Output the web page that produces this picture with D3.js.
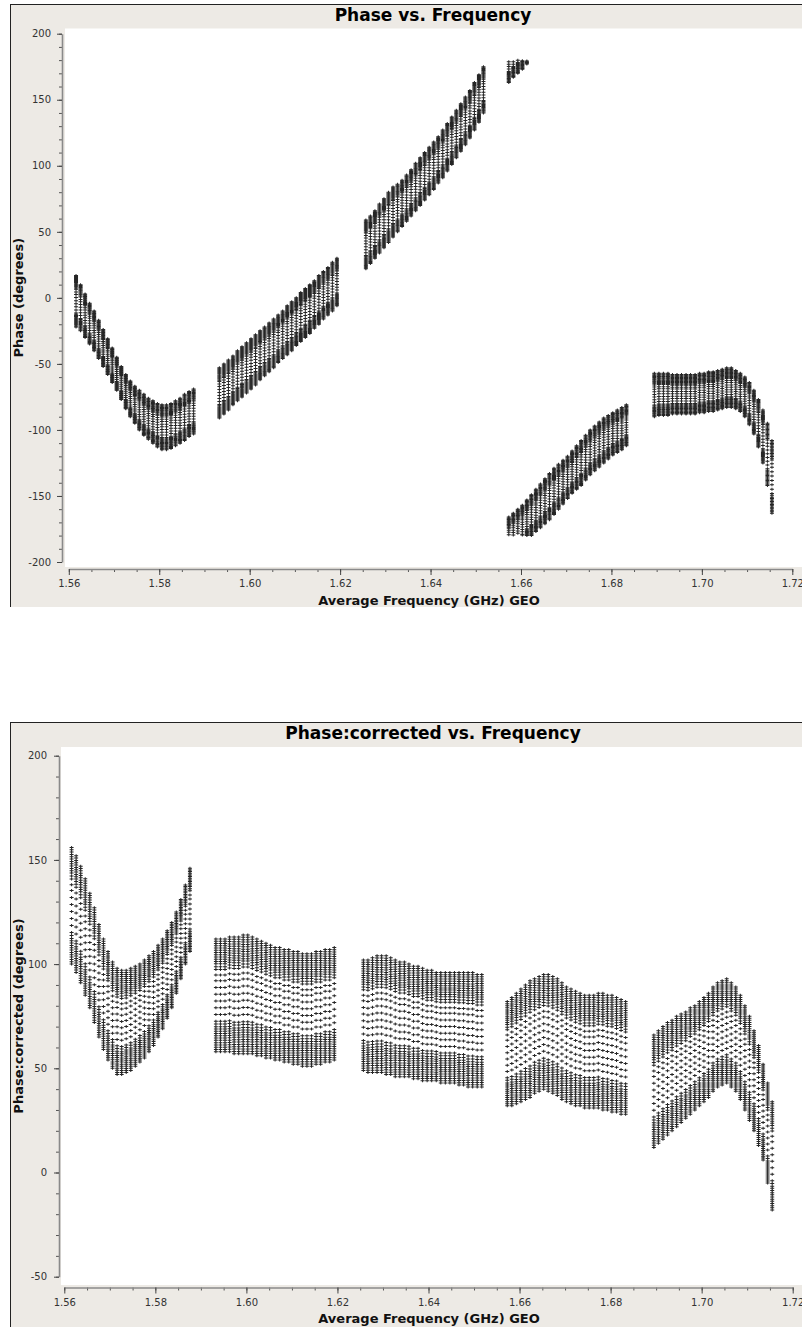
<!DOCTYPE html>
<html><head><meta charset="utf-8">
<script src="https://cdn.jsdelivr.net/npm/d3@7"></script>
<style>
body{margin:0;background:#fff}
svg{display:block}
text{font-family:"DejaVu Sans",sans-serif}
</style>
</head><body>
<svg id="c" width="802" height="1327"></svg>
<script>
// ---------------- DATA ----------------
// spectral window start frequencies (GHz) and channel offsets (GHz)
const spwStart = [1.5616, 1.5933, 1.6257, 1.6573, 1.6895];
const chanOffset = [0,0.001,0.002,0.003,0.004,0.005,0.006,0.007,0.008,0.009,0.010,0.011,0.012,0.013,
  0.014,0.015,0.016,0.017,0.018,0.019,0.020,0.021,0.022,0.023,0.024,0.025,0.026];
// relative position of each baseline between the lower and upper envelope
const baselineFrac = [0,0.02,0.04,0.06,0.08,0.10,0.12,0.14,0.16,0.18,0.20,0.22,0.245,0.27,
  0.33,0.39,0.45,0.51,0.57,0.63,0.68,
  0.73,0.755,0.78,0.80,0.82,0.84,0.86,0.88,0.90,0.92,0.94,0.96,0.98,1.0];

// Panel 1: Phase (degrees), upper / lower envelope per spw (raw, wrapped to [-180,180))
const phaseUpper = [
  [17,10,3,-4,-10,-17,-24,-31,-38,-45,-52,-58,-63,-67,-70,-73,-76,-78,-80,-81,-81,-80,-78,-76,-73,-71,-69],
  [-53,-50,-47,-44,-40,-37,-34,-31,-28,-25,-22,-19,-16,-13,-10,-6,-3,0,4,7,10,13,17,20,23,27,30],
  [59,62,66,71,75,80,84,86,89,93,97,102,106,110,114,118,122,127,132,137,142,147,152,157,163,169,175],
  [-166,-163,-160,-157,-153,-149,-145,-141,-137,-133,-129,-126,-123,-120,-116,-112,-108,-104,-100,-97,-94,-91,-89,-87,-85,-83,-81],
  [-57,-57,-57,-57,-58,-58,-58,-58,-58,-58,-57,-57,-56,-56,-55,-54,-53,-53,-55,-57,-60,-64,-70,-77,-85,-95,-108]
];
const phaseLower = [
  [-22,-25,-30,-35,-40,-46,-52,-58,-64,-70,-77,-84,-90,-95,-100,-104,-107,-110,-113,-115,-115,-114,-112,-110,-108,-105,-103],
  [-91,-88,-85,-81,-78,-75,-72,-69,-66,-62,-59,-56,-53,-49,-46,-43,-40,-36,-33,-30,-27,-23,-20,-16,-13,-10,-6],
  [22,26,30,34,38,42,46,50,54,58,62,66,70,74,78,82,87,91,96,101,106,111,116,121,127,133,140],
  [-197,-193,-190,-187,-183,-180,-177,-174,-171,-168,-164,-160,-156,-152,-148,-145,-142,-138,-134,-131,-128,-125,-122,-119,-117,-115,-112],
  [-90,-89,-89,-89,-88,-88,-88,-88,-88,-88,-87,-87,-86,-86,-85,-84,-83,-83,-84,-86,-90,-96,-103,-113,-125,-142,-163]
];

// Panel 2: Phase:corrected (degrees)
const corrUpper = [
  [156,152,147,141,134,127,119,112,106,101,98,97,97,98,99,100,102,104,106,109,112,116,120,125,131,138,146],
  [112,112,112,113,113,113,114,114,113,112,111,110,109,108,108,107,107,106,106,105,105,105,106,106,107,107,108],
  [102,102,103,104,104,104,103,102,101,101,100,99,99,98,97,97,96,96,96,96,96,96,96,96,96,95,95],
  [82,84,86,88,90,92,93,94,95,95,94,93,91,89,88,87,86,85,85,85,86,86,85,85,84,83,82],
  [66,68,70,72,73,75,76,77,79,80,82,84,86,89,91,92,93,91,89,85,80,75,68,61,52,43,34]
];
const corrLower = [
  [100,96,91,85,79,72,65,59,54,50,47,47,48,49,51,53,55,58,61,65,69,74,79,86,93,100,106],
  [58,58,58,58,57,57,57,57,57,56,56,55,55,54,54,53,53,52,52,51,51,51,52,52,53,53,54],
  [49,48,48,48,48,47,47,46,46,46,46,45,45,44,44,44,44,43,43,43,43,42,42,41,41,41,41],
  [32,32,33,34,35,36,38,39,40,39,38,37,35,34,33,32,32,31,31,31,31,30,30,29,29,28,28],
  [12,14,16,18,20,22,24,26,28,30,32,34,36,39,41,42,43,41,39,35,30,25,20,13,6,-5,-18]
];

const xTickValues = [1.56,1.58,1.60,1.62,1.64,1.66,1.68,1.70,1.72];
const xTickLabels = ["1.56","1.58","1.60","1.62","1.64","1.66","1.68","1.70","1.72"];
const phaseTickValues = [200,150,100,50,0,-50,-100,-150,-200];
const phaseTickLabels = ["200","150","100","50","0","-50","-100","-150","-200"];
const corrTickValues = [200,150,100,50,0,-50];
const corrTickLabels = ["200","150","100","50","0","-50"];

// ---------------- DRAW ----------------
const svg = d3.select("#c");
const glyph = "M-2,-0.5h4v1h-4zM-0.5,-1.5h1v3h-1z"; // small plus marker

function panel(cfg){
  const g = svg.append("g");
  // frame
  g.append("rect").attr("x",10).attr("y",cfg.top).attr("width",792).attr("height",cfg.h).attr("fill","#edeae5");
  g.append("line").attr("x1",10.5).attr("x2",10.5).attr("y1",cfg.top).attr("y2",cfg.top+cfg.h).attr("stroke","#222");
  g.append("line").attr("x1",10).attr("x2",802).attr("y1",cfg.top+0.5).attr("y2",cfg.top+0.5).attr("stroke","#222");
  // plot area
  g.append("rect").attr("x",cfg.px0).attr("y",cfg.py0).attr("width",802-cfg.px0).attr("height",cfg.py1-cfg.py0).attr("fill","#fff");
  // title
  g.append("text").attr("x",433).attr("y",cfg.top+16.5).attr("text-anchor","middle")
    .attr("font-size",17).attr("font-weight","bold").attr("fill","#000").text(cfg.title);

  const x = d3.scaleLinear().domain([1.56,1.72]).range(cfg.xr);
  const y = d3.scaleLinear().domain(cfg.yd).range(cfg.yr);

  // axes
  const ax = g.append("g").attr("transform",`translate(0,${cfg.xAxisY})`);
  ax.call(d3.axisBottom(x).tickValues(d3.range(1.56,1.7201,0.005)).tickSize(3).tickSizeOuter(0).tickFormat(""));
  ax.select(".domain").remove();
  ax.selectAll(".tick line").attr("stroke","#555");
  const ax2 = g.append("g").attr("transform",`translate(0,${cfg.xAxisY})`)
    .call(d3.axisBottom(x).tickValues(xTickValues).tickSize(6).tickSizeOuter(0).tickPadding(5)
      .tickFormat((d,i)=>xTickLabels[i]));
  ax2.select(".domain").attr("stroke","#8a8a8a").attr("stroke-width",1.6);
  ax2.selectAll(".tick line").attr("stroke","#444");
  ax2.selectAll("text").attr("font-size",10).attr("fill","#333").attr("font-family","DejaVu Sans");

  const ay = g.append("g").attr("transform",`translate(${cfg.yAxisX},0)`);
  ay.call(d3.axisLeft(y).tickValues(d3.range(cfg.yd[0],cfg.yd[1]+1,10)).tickSize(3).tickSizeOuter(0).tickFormat(""));
  ay.select(".domain").remove();
  ay.selectAll(".tick line").attr("stroke","#555");
  const ay2 = g.append("g").attr("transform",`translate(${cfg.yAxisX},0)`)
    .call(d3.axisLeft(y).tickValues(cfg.yTicks).tickSize(5).tickSizeOuter(0).tickPadding(cfg.yPad)
      .tickFormat((d,i)=>cfg.yLabels[i]));
  ay2.select(".domain").attr("stroke","#8a8a8a").attr("stroke-width",1.6);
  ay2.selectAll(".tick line").attr("stroke","#444");
  ay2.selectAll("text").attr("font-size",10).attr("fill","#333").attr("font-family","DejaVu Sans");

  // axis titles
  g.append("text").attr("x",429).attr("y",cfg.top+600.5).attr("text-anchor","middle")
    .attr("font-size",13).attr("font-weight","bold").attr("fill","#111").text("Average Frequency (GHz) GEO");
  g.append("text").attr("transform",`translate(22.6,${(cfg.py0+cfg.py1)/2}) rotate(-90)`)
    .attr("text-anchor","middle").attr("font-size",13).attr("font-weight","bold").attr("fill","#111").text(cfg.ytitle);

  // points
  const pts = [];
  spwStart.forEach((f0,s)=>{
    chanOffset.forEach((df,c)=>{
      const hi = cfg.upper[s][c], lo = cfg.lower[s][c];
      baselineFrac.forEach(fr=>{
        let v = lo + fr*(hi-lo);
        if (v < -180) v += 360;
        if (v >= 180) v -= 360;
        pts.push({f:f0+df, v});
      });
    });
  });
  g.append("g").selectAll("path").data(pts).join("path")
    .attr("d",glyph).attr("fill","#262626")
    .attr("transform",d=>`translate(${x(d.f)},${y(d.v)})`);
}

panel({top:4, h:603, title:"Phase vs. Frequency", ytitle:"Phase (degrees)",
  px0:65, py0:28.5, py1:567, xr:[68.8,792.3], yd:[-200,200], yr:[562,33.7],
  xAxisY:569, yAxisX:62, yPad:6, yTicks:phaseTickValues, yLabels:phaseTickLabels,
  upper:phaseUpper, lower:phaseLower});

panel({top:722, h:605, title:"Phase:corrected vs. Frequency", ytitle:"Phase:corrected (degrees)",
  px0:61, py0:747, py1:1285, xr:[64.3,792.7], yd:[-50,200], yr:[1276.7,755.7],
  xAxisY:1287.5, yAxisX:59, yPad:7, yTicks:corrTickValues, yLabels:corrTickLabels,
  upper:corrUpper, lower:corrLower});
</script>
</body></html>
